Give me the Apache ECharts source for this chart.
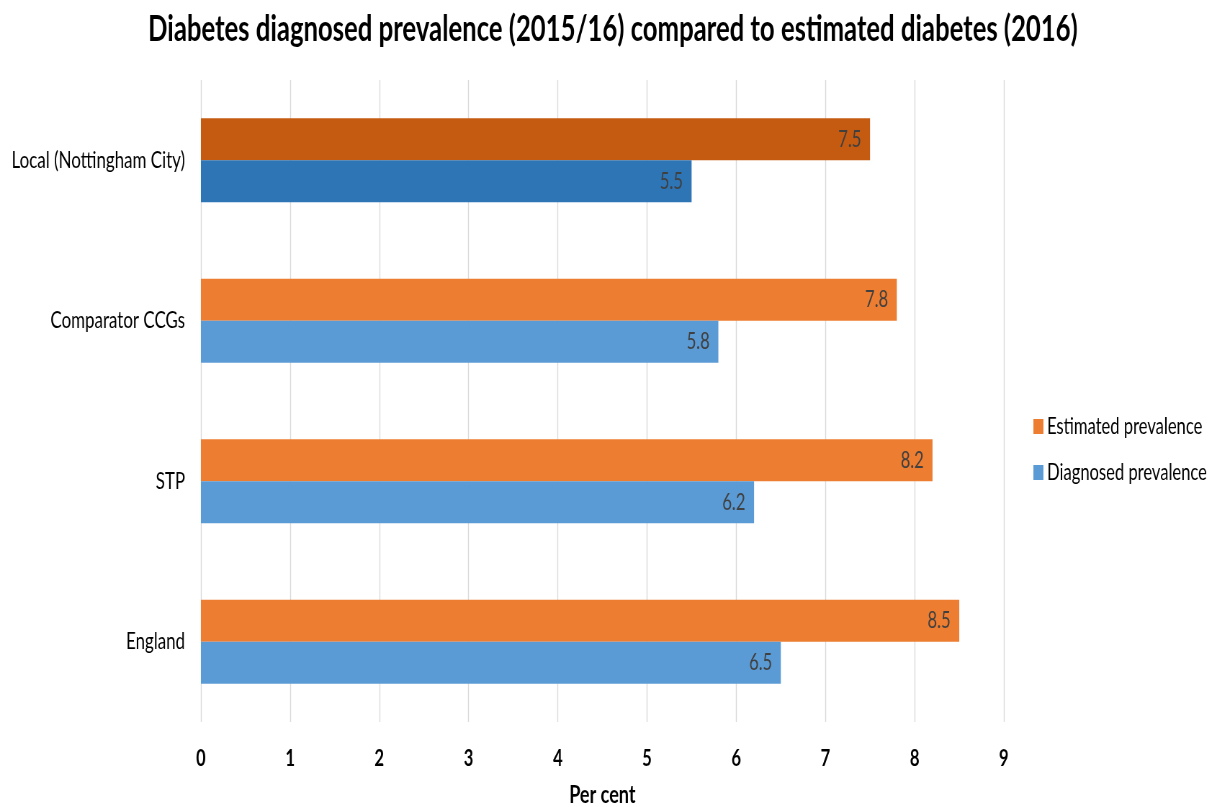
<!DOCTYPE html>
<html>
<head>
<meta charset="utf-8">
<script src="https://cdn.jsdelivr.net/npm/echarts@6/dist/echarts.min.js"></script>
<style>
  html, body { margin: 0; padding: 0; background: #fff; overflow: hidden; }
  #wrap { width: 1217px; height: 807px; overflow: hidden; }
  /* The chart is laid out wide, then condensed horizontally to fit the page */
  #chart { width: 1690px; height: 807px; transform: scaleX(0.72012); transform-origin: 0 0; }
</style>
</head>
<body>
<div id="wrap"><div id="chart"></div></div>
<script>
// Areas compared, top to bottom
const categories = ['Local (Nottingham City)', 'Comparator CCGs', 'STP', 'England'];
// Estimated diabetes prevalence, 2016 (%)
const estimated = [7.5, 7.8, 8.2, 8.5];
// Diagnosed diabetes prevalence, 2015/16 (%)
const diagnosed = [5.5, 5.8, 6.2, 6.5];
const xTicks = [0, 1, 2, 3, 4, 5, 6, 7, 8, 9];

const FONT = 'Lato, "Open Sans", sans-serif';
const ORANGE = '#ED7D31', ORANGE_DARK = '#C55A11';
const BLUE = '#5B9BD5', BLUE_DARK = '#2E75B6';

// The local area is highlighted with darker shades
function withHighlight(values, base, dark) {
  return values.map((v, i) => ({ value: v, itemStyle: { color: i === 0 ? dark : base } }));
}

const labelStyle = {
  show: true,
  position: 'insideRight',
  color: '#404040',
  fontFamily: FONT,
  fontSize: 23,
  distance: 12
};

const chart = echarts.init(document.getElementById('chart'));
chart.setOption({
  animation: false,
  title: {
    text: 'Diabetes diagnosed prevalence (2015/16) compared to estimated diabetes (2016)',
    left: 846,
    textAlign: 'center',
    top: 6,
    textStyle: { fontFamily: FONT, fontWeight: 'bold', fontSize: 35.7, color: '#000' }
  },
  legend: {
    orient: 'vertical',
    left: 1430,
    top: 410,
    itemWidth: 14,
    itemHeight: 15,
    itemGap: 23,
    icon: 'rect',
    textStyle: { fontFamily: FONT, fontSize: 23, color: '#000' },
    data: [
      { name: 'Estimated prevalence', itemStyle: { color: ORANGE } },
      { name: 'Diagnosed prevalence', itemStyle: { color: BLUE } }
    ]
  },
  grid: { left: 279, right: 296, top: 80, bottom: 85, outerBoundsMode: 'none' },
  xAxis: {
    type: 'value',
    min: xTicks[0],
    max: xTicks[xTicks.length - 1],
    interval: 1,
    name: 'Per cent',
    nameLocation: 'middle',
    nameGap: 60,
    nameTextStyle: { fontFamily: FONT, fontWeight: 'bold', fontSize: 25, color: '#000' },
    axisLine: { show: false },
    axisTick: { show: false },
    axisLabel: { fontFamily: FONT, fontWeight: 'bold', fontSize: 23, color: '#000', margin: 25 },
    splitLine: { show: true, lineStyle: { color: '#D9D9D9', width: 1.4 } }
  },
  yAxis: {
    type: 'category',
    inverse: true,
    data: categories,
    axisLine: { show: false },
    axisTick: { show: false },
    axisLabel: { fontFamily: FONT, fontSize: 23.5, color: '#000', margin: 22 }
  },
  series: [
    {
      name: 'Estimated prevalence',
      type: 'bar',
      barWidth: 42,
      barGap: '0%',
      data: withHighlight(estimated, ORANGE, ORANGE_DARK),
      itemStyle: { color: ORANGE },
      label: labelStyle
    },
    {
      name: 'Diagnosed prevalence',
      type: 'bar',
      barWidth: 42,
      barGap: '0%',
      data: withHighlight(diagnosed, BLUE, BLUE_DARK),
      itemStyle: { color: BLUE },
      label: labelStyle
    }
  ]
});
</script>
</body>
</html>
